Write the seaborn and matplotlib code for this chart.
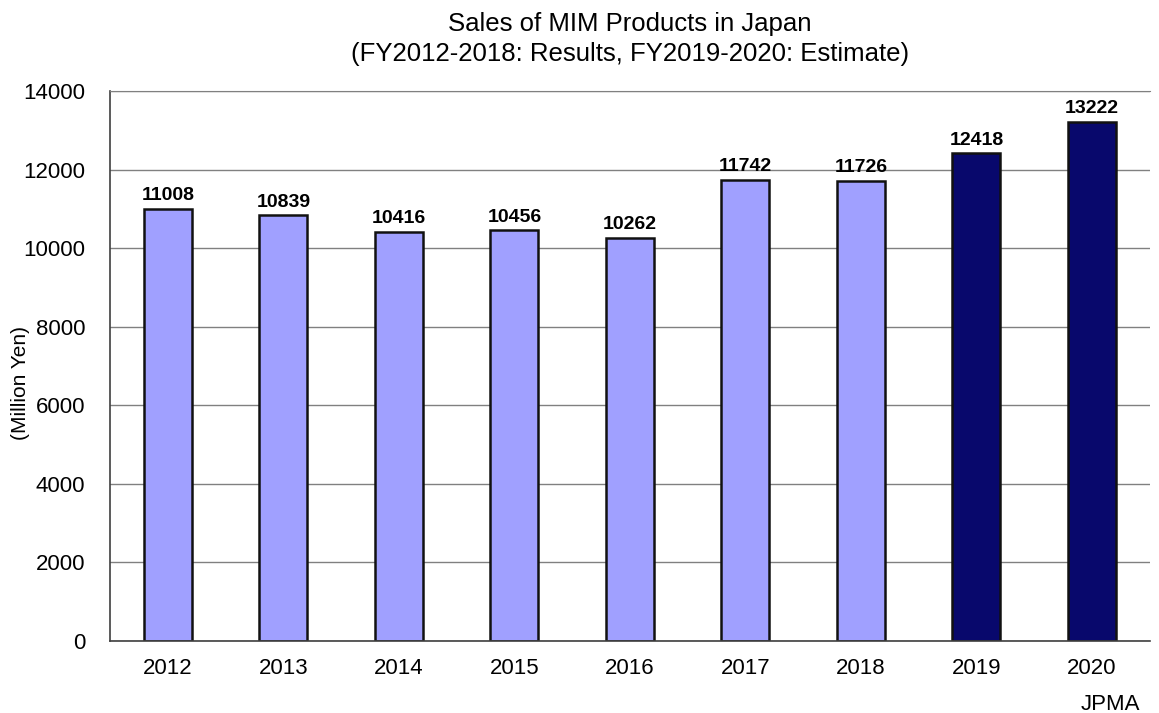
import pandas as pd
import matplotlib
matplotlib.use("Agg")
import matplotlib.pyplot as plt
import seaborn as sns

# Data
years = ["2012", "2013", "2014", "2015", "2016", "2017", "2018", "2019", "2020"]
sales = [11008, 10839, 10416, 10456, 10262, 11742, 11726, 12418, 13222]
kind = ["Result"] * 7 + ["Estimate"] * 2

df = pd.DataFrame({"year": years, "sales": sales, "kind": kind})

sns.set_style("white")
plt.rcParams["font.family"] = ["Liberation Sans", "DejaVu Sans"]
plt.rcParams["text.color"] = "black"
plt.rcParams["axes.labelcolor"] = "black"
plt.rcParams["xtick.color"] = "black"
plt.rcParams["ytick.color"] = "black"

fig = plt.figure(figsize=(11.59, 7.13), dpi=100)
ax = fig.add_axes([0.095, 0.101, 0.897, 0.771])

ax.yaxis.grid(True, color="#808080", linewidth=1.0, zorder=0)
ax.set_axisbelow(True)

sns.barplot(data=df, x="year", y="sales", hue="kind",
            palette={"Result": "#A0A0FF", "Estimate": "#08086C"},
            saturation=1, width=0.415, dodge=False,
            edgecolor="#111111", linewidth=1.8,
            legend=False, ax=ax)

for i, v in enumerate(sales):
    ax.text(i, v + 120, str(v), ha="center", va="bottom",
            fontsize=14, fontweight="bold")

ax.set_ylim(0, 14000)
ax.set_yticks(range(0, 14001, 2000))
ax.set_xlim(-0.5, 8.5)
ax.set_xlabel("")
ax.set_ylabel("")
ax.tick_params(axis="both", labelsize=16, length=0)
ax.tick_params(axis="x", pad=12)
ax.tick_params(axis="y", pad=18)

# y label placed by hand so it stays inside the figure
fig.text(0.018, 0.463, "(Million Yen)", rotation=90, ha="center", va="center",
         fontsize=15)

# small ticks between categories
ax.set_xticks([i + 0.5 for i in range(8)], minor=True)
ax.tick_params(axis="x", which="minor", direction="in", length=6, color="#404040")

ax.spines["right"].set_visible(False)
ax.spines["top"].set_color("#808080")
ax.spines["left"].set_color("#404040")
ax.spines["bottom"].set_color("#404040")
ax.spines["left"].set_linewidth(1.2)
ax.spines["bottom"].set_linewidth(1.2)

ax.set_title("Sales of MIM Products in Japan\n(FY2012-2018: Results, FY2019-2020: Estimate)",
             fontsize=18.5, pad=22, linespacing=1.3)

fig.text(0.984, 0.012, "JPMA", ha="right", va="center", fontsize=16)

fig.savefig("out.png", dpi=100)
